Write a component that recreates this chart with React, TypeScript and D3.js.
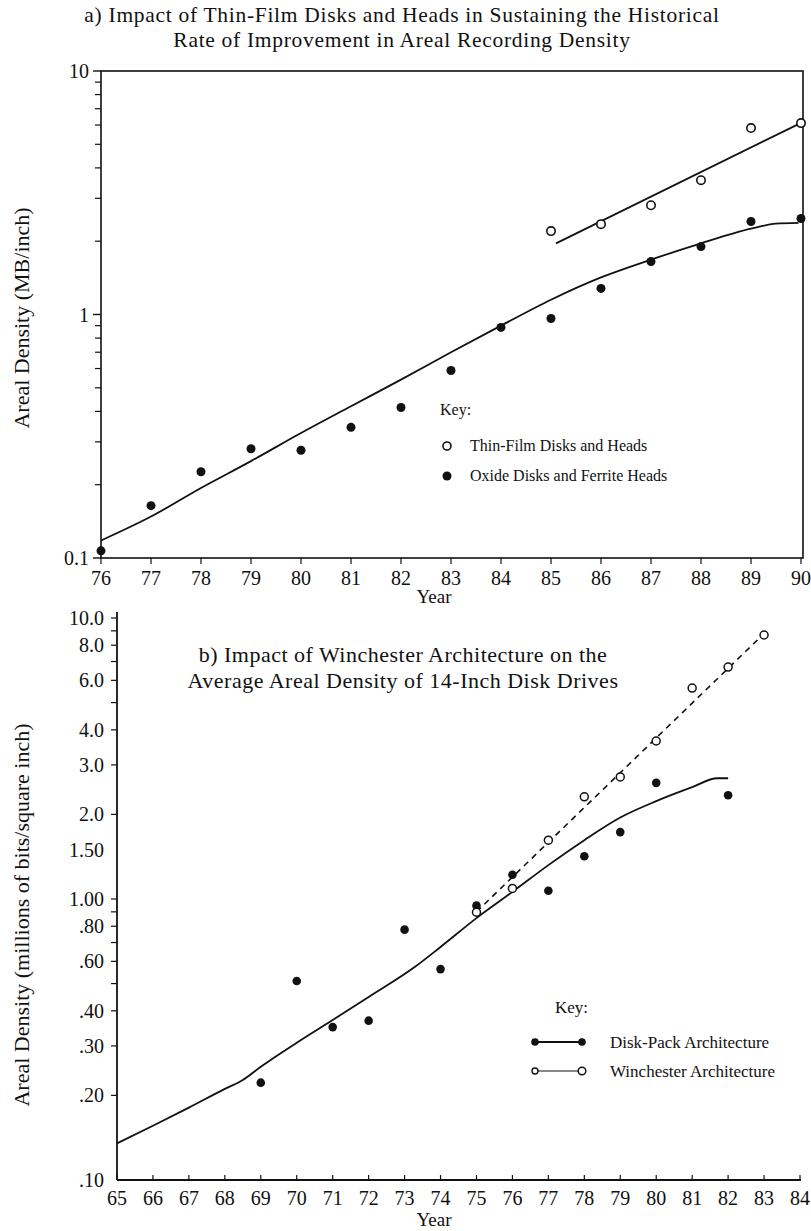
import React, { useRef, useEffect } from "react";
import * as d3 from "d3";

// ---- chart a) thin-film vs oxide ----
const topYears = [76, 77, 78, 79, 80, 81, 82, 83, 84, 85, 86, 87, 88, 89, 90];
const oxideValues = [0.107, 0.164, 0.226, 0.281, 0.277, 0.344, 0.415, 0.589, 0.885, 0.963, 1.28, 1.65, 1.9, 2.41, 2.48];
const thinFilmYears = [85, 86, 87, 88, 89, 90];
const thinFilmValues = [2.2, 2.35, 2.81, 3.56, 5.83, 6.11];
const oxideTrendYears = [76, 77, 78, 79, 80, 81, 82, 83, 84, 85, 86, 87, 88, 89, 89.5, 89.95];
const oxideTrendValues = [0.118, 0.148, 0.194, 0.25, 0.326, 0.42, 0.54, 0.7, 0.9, 1.15, 1.42, 1.68, 1.96, 2.25, 2.36, 2.38];
const thinTrendYears = [85.1, 89.95];
const thinTrendValues = [1.96, 6.05];
const topYTicks = [0.1, 1, 10];
const topYTickLabels = ["0.1", "1", "10"];

// ---- chart b) Winchester vs disk-pack ----
const bottomYears = [65, 66, 67, 68, 69, 70, 71, 72, 73, 74, 75, 76, 77, 78, 79, 80, 81, 82, 83, 84];
const diskPackYears = [69, 70, 71, 72, 73, 74, 75, 76, 77, 78, 79, 80, 82];
const diskPackValues = [0.222, 0.511, 0.35, 0.369, 0.778, 0.563, 0.947, 1.22, 1.07, 1.42, 1.73, 2.59, 2.34];
const winchesterYears = [75, 76, 77, 78, 79, 80, 81, 82, 83];
const winchesterValues = [0.897, 1.09, 1.62, 2.31, 2.72, 3.65, 5.63, 6.69, 8.7];
const diskTrendYears = [65, 66, 67, 68, 68.5, 69, 70, 71, 72, 73.3, 74, 75, 76, 77, 78, 79, 80, 81, 81.7, 82];
const diskTrendValues = [0.135, 0.156, 0.181, 0.211, 0.227, 0.253, 0.308, 0.371, 0.448, 0.575, 0.675, 0.855, 1.06, 1.32, 1.62, 1.95, 2.23, 2.5, 2.69, 2.69];
const winTrendYears = [75, 83];
const winTrendValues = [0.9, 8.8];
const bottomYTicks = [10, 8, 6, 4, 3, 2, 1.5, 1, 0.8, 0.6, 0.4, 0.3, 0.2, 0.1];
const bottomYTickLabels = ["10.0", "8.0", "6.0", "4.0", "3.0", "2.0", "1.50", "1.00", ".80", ".60", ".40", ".30", ".20", ".10"];

const FONT = "'Liberation Serif', 'DejaVu Serif', serif";
const INK = "#111";

const App = () => {
  const svgRef = useRef(null);

  useEffect(() => {
    const svg = d3.select(svgRef.current);
    svg.selectAll("*").remove();
    svg.attr("font-family", FONT).attr("fill", INK);

    // ================= top chart =================
    const xA = d3.scaleLinear().domain([76, 90]).range([101, 801]);
    const yA = d3.scaleLog().domain([0.1, 10]).range([558, 71]);
    const gA = svg.append("g");

    gA.append("text").attr("x", 402).attr("y", 22).attr("text-anchor", "middle")
      .attr("font-size", 21.5).attr("letter-spacing", 0.7)
      .text("a) Impact of Thin-Film Disks and Heads in Sustaining the Historical");
    gA.append("text").attr("x", 402).attr("y", 47).attr("text-anchor", "middle")
      .attr("font-size", 21.5).attr("letter-spacing", 0.7)
      .text("Rate of Improvement in Areal Recording Density");

    // frame
    gA.append("rect").attr("x", 101).attr("y", 71).attr("width", 702).attr("height", 487)
      .attr("fill", "none").attr("stroke", INK).attr("stroke-width", 1.6);

    // y ticks (log minor + major)
    const minorA = [];
    [0.1, 1].forEach(d => { for (let k = 2; k <= 9; k++) minorA.push(d * k); });
    gA.selectAll(".minorA").data(minorA).enter().append("line")
      .attr("x1", 95).attr("x2", 101).attr("y1", d => yA(d)).attr("y2", d => yA(d))
      .attr("stroke", INK).attr("stroke-width", 1.2);
    gA.selectAll(".majorA").data(topYTicks).enter().append("line")
      .attr("x1", 93).attr("x2", 101).attr("y1", d => yA(d)).attr("y2", d => yA(d))
      .attr("stroke", INK).attr("stroke-width", 1.4);
    gA.selectAll(".ylabA").data(topYTicks).enter().append("text")
      .attr("x", 89).attr("y", d => yA(d) + 7).attr("text-anchor", "end").attr("font-size", 20)
      .text((d, i) => topYTickLabels[i]);

    // x ticks
    gA.selectAll(".xtA").data(topYears).enter().append("line")
      .attr("x1", d => xA(d)).attr("x2", d => xA(d)).attr("y1", 558).attr("y2", 564)
      .attr("stroke", INK).attr("stroke-width", 1.2);
    gA.selectAll(".xlA").data(topYears).enter().append("text")
      .attr("x", d => xA(d)).attr("y", 585).attr("text-anchor", "middle").attr("font-size", 20)
      .text(d => d);
    gA.append("text").attr("x", 434).attr("y", 603).attr("text-anchor", "middle")
      .attr("font-size", 19).text("Year");
    gA.append("text").attr("transform", "translate(29,318)rotate(-90)")
      .attr("text-anchor", "middle").attr("font-size", 22).text("Areal Density (MB/inch)");

    const lineA = d3.line().x(d => xA(d[0])).y(d => yA(d[1])).curve(d3.curveMonotoneX);
    gA.append("path").datum(oxideTrendYears.map((y, i) => [y, oxideTrendValues[i]]))
      .attr("d", lineA).attr("fill", "none").attr("stroke", INK).attr("stroke-width", 1.8);
    gA.append("path").datum(thinTrendYears.map((y, i) => [y, thinTrendValues[i]]))
      .attr("d", lineA).attr("fill", "none").attr("stroke", INK).attr("stroke-width", 1.8);

    gA.selectAll(".oxide").data(topYears).enter().append("circle")
      .attr("cx", d => xA(d)).attr("cy", (d, i) => yA(oxideValues[i])).attr("r", 4.5).attr("fill", INK);
    gA.selectAll(".thin").data(thinFilmYears).enter().append("circle")
      .attr("cx", d => xA(d)).attr("cy", (d, i) => yA(thinFilmValues[i])).attr("r", 4.2)
      .attr("fill", "#fff").attr("stroke", INK).attr("stroke-width", 1.6);

    // key
    gA.append("text").attr("x", 440).attr("y", 415).attr("font-size", 16).text("Key:");
    gA.append("circle").attr("cx", 447).attr("cy", 446).attr("r", 4)
      .attr("fill", "#fff").attr("stroke", INK).attr("stroke-width", 1.6);
    gA.append("text").attr("x", 470).attr("y", 451).attr("font-size", 16).text("Thin-Film Disks and Heads");
    gA.append("circle").attr("cx", 447).attr("cy", 476).attr("r", 4.5).attr("fill", INK);
    gA.append("text").attr("x", 470).attr("y", 481).attr("font-size", 16).text("Oxide Disks and Ferrite Heads");

    // ================= bottom chart =================
    const xB = d3.scaleLinear().domain([65, 84]).range([117, 800]);
    const yB = d3.scaleLog().domain([0.1, 10]).range([1180, 618]);
    const gB = svg.append("g");

    gB.append("line").attr("x1", 117).attr("x2", 117).attr("y1", 612).attr("y2", 1180)
      .attr("stroke", INK).attr("stroke-width", 1.8);
    gB.append("line").attr("x1", 117).attr("x2", 801).attr("y1", 1180).attr("y2", 1180)
      .attr("stroke", INK).attr("stroke-width", 1.8);

    const minorB = [];
    [0.1, 1].forEach(d => { for (let k = 2; k <= 9; k++) minorB.push(d * k); });
    gB.selectAll(".minorB").data(minorB.concat([1, 10])).enter().append("line")
      .attr("x1", 111).attr("x2", 117).attr("y1", d => yB(d)).attr("y2", d => yB(d))
      .attr("stroke", INK).attr("stroke-width", 1.2);
    gB.selectAll(".ylabB").data(bottomYTicks).enter().append("text")
      .attr("x", 104).attr("y", d => yB(d) + 7).attr("text-anchor", "end").attr("font-size", 20)
      .text((d, i) => bottomYTickLabels[i]);

    gB.selectAll(".xtB").data(bottomYears).enter().append("line")
      .attr("x1", d => xB(d)).attr("x2", d => xB(d)).attr("y1", 1180).attr("y2", 1175)
      .attr("stroke", INK).attr("stroke-width", 1.2);
    gB.selectAll(".xlB").data(bottomYears).enter().append("text")
      .attr("x", d => xB(d)).attr("y", 1205).attr("text-anchor", "middle").attr("font-size", 20)
      .text(d => d);
    gB.append("text").attr("x", 434).attr("y", 1226).attr("text-anchor", "middle")
      .attr("font-size", 19).text("Year");
    gB.append("text").attr("transform", "translate(29,915)rotate(-90)")
      .attr("text-anchor", "middle").attr("font-size", 22)
      .text("Areal Density (millions of bits/square inch)");

    gB.append("text").attr("x", 403).attr("y", 662).attr("text-anchor", "middle")
      .attr("font-size", 22).attr("letter-spacing", 0.5)
      .text("b) Impact of Winchester Architecture on the");
    gB.append("text").attr("x", 403).attr("y", 688).attr("text-anchor", "middle")
      .attr("font-size", 22).attr("letter-spacing", 0.5)
      .text("Average Areal Density of 14-Inch Disk Drives");

    const lineB = d3.line().x(d => xB(d[0])).y(d => yB(d[1])).curve(d3.curveMonotoneX);
    gB.append("path").datum(diskTrendYears.map((y, i) => [y, diskTrendValues[i]]))
      .attr("d", lineB).attr("fill", "none").attr("stroke", INK).attr("stroke-width", 1.8);
    gB.append("path").datum(winTrendYears.map((y, i) => [y, winTrendValues[i]]))
      .attr("d", lineB).attr("fill", "none").attr("stroke", INK).attr("stroke-width", 1.6)
      .attr("stroke-dasharray", "6,5");

    gB.selectAll(".disk").data(diskPackYears).enter().append("circle")
      .attr("cx", d => xB(d)).attr("cy", (d, i) => yB(diskPackValues[i])).attr("r", 4.3).attr("fill", INK);
    gB.selectAll(".win").data(winchesterYears).enter().append("circle")
      .attr("cx", d => xB(d)).attr("cy", (d, i) => yB(winchesterValues[i])).attr("r", 4)
      .attr("fill", "#fff").attr("stroke", INK).attr("stroke-width", 1.5);

    // key
    gB.append("text").attr("x", 555).attr("y", 1013).attr("font-size", 17).text("Key:");
    gB.append("line").attr("x1", 535).attr("x2", 582).attr("y1", 1042).attr("y2", 1042)
      .attr("stroke", INK).attr("stroke-width", 1.8);
    gB.append("circle").attr("cx", 535).attr("cy", 1042).attr("r", 3.8).attr("fill", INK);
    gB.append("circle").attr("cx", 582).attr("cy", 1042).attr("r", 3.8).attr("fill", INK);
    gB.append("text").attr("x", 610).attr("y", 1048).attr("font-size", 17).text("Disk-Pack Architecture");
    gB.append("line").attr("x1", 535).attr("x2", 582).attr("y1", 1071).attr("y2", 1071)
      .attr("stroke", INK).attr("stroke-width", 1);
    gB.append("circle").attr("cx", 535).attr("cy", 1071).attr("r", 3).attr("fill", "#fff")
      .attr("stroke", INK).attr("stroke-width", 1.4);
    gB.append("circle").attr("cx", 582).attr("cy", 1071).attr("r", 3.8).attr("fill", "#fff")
      .attr("stroke", INK).attr("stroke-width", 1.5);
    gB.append("text").attr("x", 610).attr("y", 1077).attr("font-size", 17).text("Winchester Architecture");
  }, []);

  return (
    <div style={{ position: "absolute", left: 0, top: 0, background: "#fff" }}>
      <svg ref={svgRef} width={811} height={1231}></svg>
    </div>
  );
};

export default App;
